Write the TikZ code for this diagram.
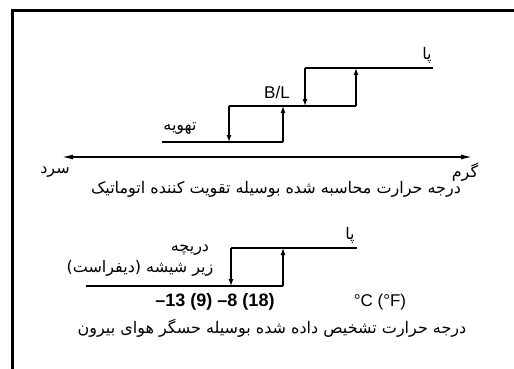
\documentclass[tikz,border=0pt]{standalone}
\usepackage{fontspec}
\setmainfont{Liberation Sans}
\newfontfamily\fa[Script=Arabic]{DejaVu Sans}
\TeXXeTstate=1
\usetikzlibrary{arrows.meta}
\newcommand{\fatxt}[1]{{\fa\beginR #1\endR}}
\begin{document}
\begin{tikzpicture}[x=1pt,y=-1pt,
  lvl/.style={line width=1.3pt},
  stepup/.style={line width=1.3pt,-{Latex[length=7pt,width=5pt]}},
  axisarrow/.style={line width=1.3pt,{Latex[length=11pt,width=5pt]}-{Latex[length=11pt,width=5pt]}},
  fa/.style={inner sep=0pt,font=\fa\fontsize{16}{18}\selectfont},
  lat/.style={inner sep=0pt,font=\fontsize{17}{19}\selectfont},
  latb/.style={inner sep=0pt,font=\bfseries\fontsize{18}{20}\selectfont}]
\useasboundingbox (0,0) rectangle (514,369);
% frame
\draw[line width=2.7pt] (12.5,369) -- (12.5,10.5) -- (514,10.5);
% upper diagram coordinates
\coordinate (b0) at (162,142); \coordinate (b1) at (283,142);
\coordinate (bd) at (229,142);
\coordinate (m0) at (229,106); \coordinate (m1) at (356,106);
\coordinate (mu) at (283,106); \coordinate (md) at (305,106);
\coordinate (t0) at (305,68);  \coordinate (t1) at (433,68);
\coordinate (tu) at (356,68);
\draw[lvl] (b0) -- (b1);
\draw[lvl] (m0) -- (m1);
\draw[lvl] (t0) -- (t1);
\draw[stepup] (m0) -- (bd);
\draw[stepup] (b1) -- (mu);
\draw[stepup] (t0) -- (md);
\draw[stepup] (m1) -- (tu);
\node[fa] (pa1) at (427,55) {\fatxt{پا}};
\node[lat] (bl) at (277,92) {B/L};
\node[fa] (vent) at (180,129) {\fatxt{تهویه}};
% axis
\coordinate (axL) at (62,157); \coordinate (axR) at (472,157);
\draw[axisarrow] (axL) -- (axR);
\node[fa] (cold) at (55,172) {\fatxt{سرد}};
\node[fa] (hot) at (465,172) {\fatxt{گرم}};
\node[fa] (cap1) at (276,189) {\fatxt{درجه حرارت محاسبه شده بوسیله تقویت کننده اتوماتیک}};
% lower diagram
\coordinate (lb0) at (86,286); \coordinate (lb1) at (283,286);
\coordinate (lbd) at (231,286);
\coordinate (lt0) at (231,248); \coordinate (lt1) at (357,248);
\coordinate (ltu) at (283,248);
\draw[lvl] (lb0) -- (lb1);
\draw[lvl] (lt0) -- (lt1);
\draw[stepup] (lt0) -- (lbd);
\draw[stepup] (lb1) -- (ltu);
\node[fa] (pa2) at (350,235) {\fatxt{پا}};
\node[fa] (vnt) at (190,250) {\fatxt{دریچه}};
\node[fa] (def) at (140,268) {\fatxt{زیر شیشه (دیفراست)}};
\node[latb] (nums) at (215,302) {–13 (9) –8 (18)};
\node[lat] (unit) at (380,302) {°C (°F)};
\node[fa] (cap2) at (272,328) {\fatxt{درجه حرارت تشخیص داده شده بوسیله حسگر هوای بیرون}};
\end{tikzpicture}
\end{document}
